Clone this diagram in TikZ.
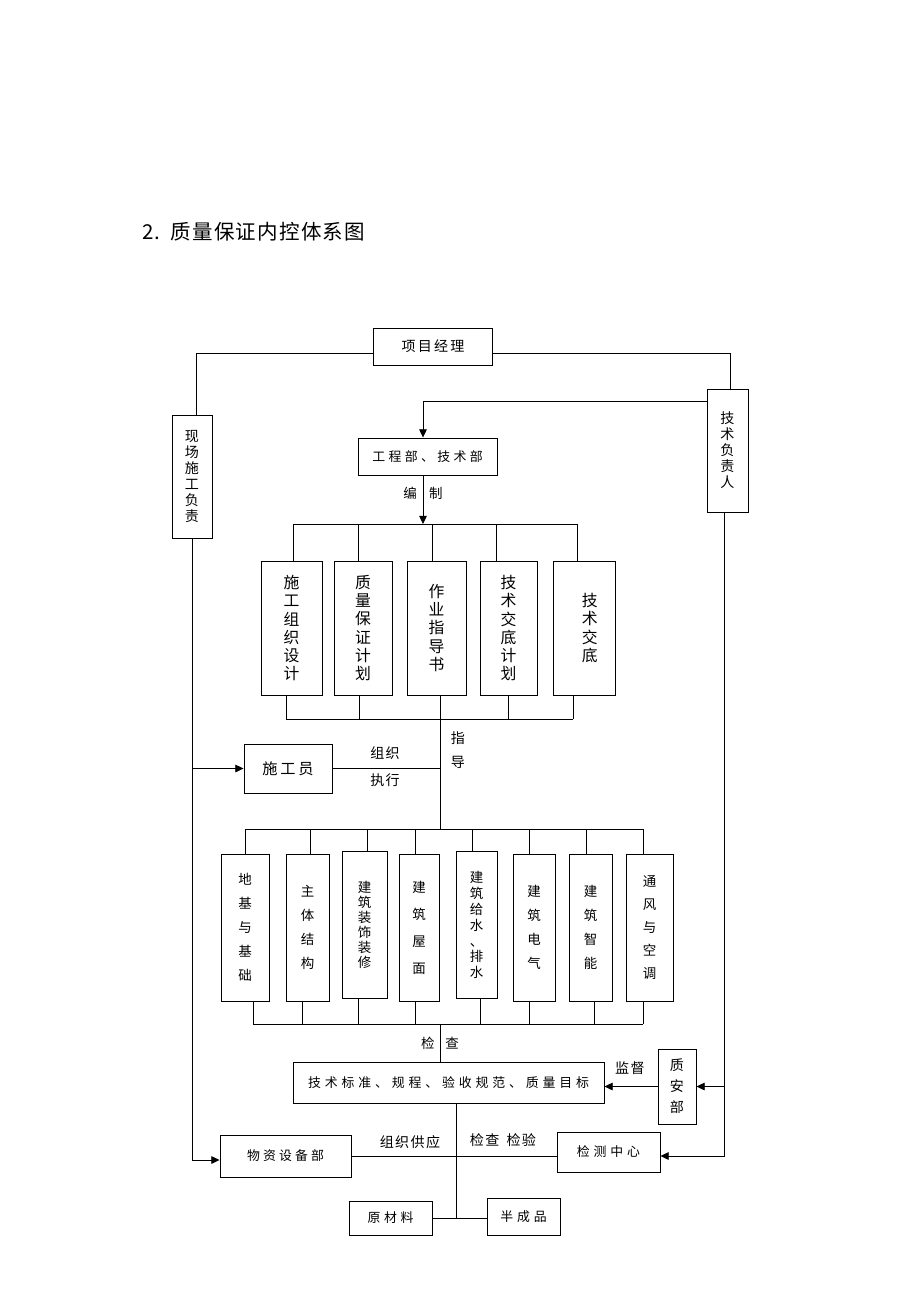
\documentclass[tikz,border=0pt]{standalone}
\usepackage{fontspec}
\setmainfont{Noto Sans CJK SC}
\usetikzlibrary{arrows.meta}
\tikzset{
  box/.style={draw, line width=0.8pt, inner sep=0pt, align=center},
  sz/.style 2 args={minimum width=#1*0.03cm, minimum height=#2*0.03cm},
  vt/.style 2 args={font=\fontsize{#1}{#2}\selectfont},
  ht/.style 2 args={font=\fontsize{#1}{#1}\selectfont\addfontfeatures{LetterSpace=#2}},
  link/.style={line width=0.7pt},
  arr/.style={link, -{Triangle[length=7pt,width=6.5pt]}},
}
\begin{document}
\begin{tikzpicture}[x=0.03cm, y=-0.03cm]
\useasboundingbox (0,0) rectangle (920,1302);

% title
\node[anchor=west, ht={17.5}{6}] (title) at (138,232) {2.\hspace{0.5em}质量保证内控体系图};

% top level
\node[box, sz={119}{37}, ht={12}{16}] (pm) at (433,346.5) {项目经理};
\node[box, sz={40}{123}, vt={12}{13.7}] (xc) at (192,476.5) {现\\场\\施\\工\\负\\责};
\node[box, sz={41}{123}, vt={12}{13.7}] (jf) at (727.5,450.5) {技\\术\\负\\责\\人};
\node[box, sz={139}{37}, ht={11}{26}] (gc) at (427.5,456.5) {工程部、技术部};

% documents
\node[box, sz={61}{134}, vt={13.5}{15.4}] (b1) at (291.5,628) {施\\工\\组\\织\\设\\计};
\node[box, sz={58}{134}, vt={13.5}{15.4}] (b2) at (363,628) {质\\量\\保\\证\\计\\划};
\node[box, sz={59}{134}, vt={13.5}{15.4}] (b3) at (436.5,628) {作\\业\\指\\导\\书};
\node[box, sz={57}{134}, vt={13.5}{15.4}] (b4) at (508.5,628) {技\\术\\交\\底\\计\\划};
\node[box, sz={62}{134}, vt={13.5}{15.4}] (b5) at (584,628) {\hspace{0.35cm}技\\\hspace{0.35cm}术\\\hspace{0.35cm}交\\\hspace{0.35cm}底};

\node[box, sz={88}{49}, ht={13}{18}] (sgy) at (288,768.5) {施工员};

% works
\node[box, sz={48}{147}, vt={11.5}{20.5}] (c1) at (245,927.5) {地\\基\\与\\基\\础};
\node[box, sz={43}{147}, vt={11.5}{20.5}] (c2) at (307.5,927.5) {主\\体\\结\\构};
\node[box, sz={45}{147}, vt={11.5}{12.8}] (c3) at (364.5,925) {建\\筑\\装\\饰\\装\\修};
\node[box, sz={40}{147}, vt={11.5}{23}] (c4) at (419,927.5) {建\\筑\\屋\\面};
\node[box, sz={41}{147}, vt={11.5}{13.6}] (c5) at (476.5,925) {建\\筑\\给\\水\\、\\排\\水};
\node[box, sz={42}{147}, vt={11.5}{20.5}] (c6) at (534,927.5) {建\\筑\\电\\气};
\node[box, sz={43}{147}, vt={11.5}{20.5}] (c7) at (590.5,927.5) {建\\筑\\智\\能};
\node[box, sz={47}{147}, vt={11.5}{19.7}] (c8) at (649.5,927.5) {通\\风\\与\\空\\调};

% standards and supply
\node[box, sz={311}{41}, ht={11}{30}] (jb) at (448.5,1082.5) {技术标准、规程、验收规范、质量目标};
\node[box, sz={38}{75}, vt={12}{18}] (zab) at (677,1086.5) {质\\安\\部};
\node[box, sz={131}{42}, ht={11}{24}] (wz) at (285.5,1156) {物资设备部};
\node[box, sz={103}{40}, ht={11}{30}] (jc) at (608.5,1152) {检测中心};
\node[box, sz={83}{34}, ht={11}{28}] (ycl) at (390.5,1218) {原材料};
\node[box, sz={73}{37}, ht={11}{30}] (bcp) at (523.5,1216.5) {半成品};

% labels
\node[ht={11.5}{0}] (bz) at (423,493) {编\hspace{0.9em}制};
\node[ht={12}{8}] (zz) at (385,753) {组织};
\node[ht={12}{8}] (zx) at (385,780) {执行};
\node[vt={12}{20.5}, align=center] (zd) at (458,750) {指\\导};
\node[ht={11.5}{0}] (jcl) at (440,1043) {检\hspace{0.8em}查};
\node[ht={12}{10}] (jd) at (630,1068) {监督};
\node[ht={12}{10}] (zg) at (410,1142) {组织供应};
\node[ht={12}{10}] (jj) at (503,1140) {检查\hspace{0.5em}检验};

% bars
\coordinate (t1l) at (293,524);  \coordinate (t1r) at (577,524);
\coordinate (u1l) at (286,719);  \coordinate (u1r) at (573,719);
\coordinate (t2l) at (245,829);  \coordinate (t2r) at (643,829);
\coordinate (u2l) at (253,1024); \coordinate (u2r) at (643,1024);
\coordinate (st1) at (440,719);
\coordinate (st2) at (440,1024);
\draw[link] (t1l) -- (t1r);
\draw[link] (u1l) -- (u1r);
\draw[link] (t2l) -- (t2r);
\draw[link] (u2l) -- (u2r);
\foreach \n/\dx in {1/1.5, 2/-5, 3/-4.5, 4/-12.5, 5/-7}
  \draw[link] ([xshift=\dx*0.03cm]b\n.north) -- ([xshift=\dx*0.03cm]b\n.north |- t1l);
\foreach \n/\dx in {1/-5.5, 2/-4, 3/3.5, 4/-0.5, 5/-11}
  \draw[link] ([xshift=\dx*0.03cm]b\n.south) -- ([xshift=\dx*0.03cm]b\n.south |- u1l);
\foreach \n/\dx in {1/0, 2/2.5, 3/2.5, 4/-4, 5/-4.5, 6/-5, 7/-4.5, 8/-6.5}
  \draw[link] ([xshift=\dx*0.03cm]c\n.north) -- ([xshift=\dx*0.03cm]c\n.north |- t2l);
\foreach \n/\dx in {1/8, 2/-5.5, 3/-6.5, 4/-4, 5/3.5, 6/-5, 7/3.5, 8/-6.5}
  \draw[link] ([xshift=\dx*0.03cm]c\n.south) -- ([xshift=\dx*0.03cm]c\n.south |- u2l);

% connectors
\draw[link] ([yshift=-0.2cm]pm.west) -| ([xshift=0.12cm]xc.north);
\draw[link] ([yshift=-0.2cm]pm.east) -| ([xshift=0.1cm]jf.north);
\draw[arr] ([yshift=-0.39cm]jf.north west) -| ([xshift=-0.135cm]gc.north);
\draw[arr] ([xshift=-0.135cm]gc.south) -- ([xshift=-0.135cm]gc.south |- t1l);
\draw[link] (st1) -- (st1 |- t2l);
\draw[link] (sgy.east) -- (sgy.east -| st1);
\draw[link] (st2) -- (st2 |- jb.north);
\draw[link] ([xshift=0.225cm]jb.south) -- ([xshift=0.225cm]jb.south |- ycl.east);
\draw[link] (ycl.east) -- (ycl.east -| bcp.west);
\draw[link] (wz.east) -- (wz.east -| jc.west);
\draw[arr] (xc.south) |- ([yshift=-0.12cm]wz.west);
\draw[arr] (xc.south |- sgy.west) -- (sgy.west);
\draw[arr] ([xshift=-0.1cm]jf.south) |- ([yshift=-0.12cm]jc.east);
\draw[arr] ([xshift=-0.1cm]jf.south |- zab.east) -- (zab.east);
\draw[arr] (zab.west) -- (zab.west -| jb.east);
\end{tikzpicture}
\end{document}
